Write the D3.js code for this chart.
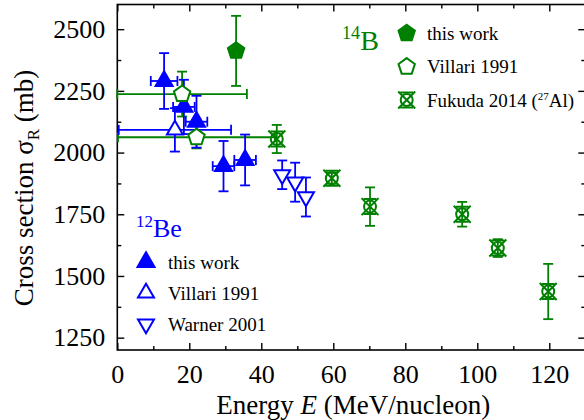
<!DOCTYPE html>
<html>
<head>
<meta charset="utf-8">
<script src="https://cdn.jsdelivr.net/npm/d3@7"></script>
<style>
  body { margin: 0; background: #fff; }
  svg { display: block; }
  text { font-family: "Liberation Serif", "Times New Roman", serif; }
</style>
</head>
<body>
<svg id="chart" width="584" height="420"></svg>
<script>
// 12Be on carbon, this work
const beThisE      = [13, 18.5, 22, 29.5, 35.5];
const beThisEErr   = [3.7, 3, 3, 3, 3];
const beThisSigma  = [2290, 2185, 2125, 1945, 1970];
const beThisErr    = [113, 110, 105, 102, 103];

// 12Be, Villari 1991
const beVillariE     = [16];
const beVillariEErr  = [15.6];
const beVillariSigma = [2092];
const beVillariErr   = [88];

// 12Be, Warner 2001
const beWarnerE     = [45.8, 49.4, 52.4];
const beWarnerSigma = [1910, 1880, 1820];
const beWarnerErr   = [58, 79, 79];

// 14B on carbon, this work
const bThisE     = [33];
const bThisSigma = [2412];
const bThisErr   = [142];

// 14B, Villari 1991
const bVillariE     = [18, 22];
const bVillariEErr  = [18, 21.8];
const bVillariSigma = [2237, 2062];
const bVillariErr   = [91, 45];

// 14B on 27Al, Fukuda 2014
const bFukudaE     = [44.3, 59.6, 70.2, 95.8, 105.7, 119.7];
const bFukudaSigma = [2055, 1896, 1781, 1750, 1613, 1437];
const bFukudaErr   = [57, 22, 78, 50, 36, 112];

// axis ticks
const xTicks = [0, 20, 40, 60, 80, 100, 120];
const xMinorTicks = [10, 30, 50, 70, 90, 110, 130];
const yTicks = [1250, 1500, 1750, 2000, 2250, 2500];
const yMinorTicks = [1375, 1625, 1875, 2125, 2375];

const BLUE = "#0000ff";
const GREEN = "#008000";
const FONT = "Liberation Serif, Times New Roman, serif";

const svg = d3.select("#chart");

const x = d3.scaleLinear().domain([0, 130]).range([117.3, 585.3]);
const y = d3.scaleLinear().domain([1200, 2600]).range([350, 4.5]);

const [x0, x1] = x.range();
const [y0, y1] = y.range();

// ---- axes: inward ticks on all four sides ----
function styleAxis(g) {
  g.attr("font-family", FONT);
  g.select(".domain").remove();
  g.selectAll(".tick line").attr("stroke", "#000").attr("stroke-width", 1.4);
  g.selectAll("text").attr("fill", "#000").attr("font-size", 26).attr("font-family", FONT);
}

svg.append("g").attr("transform", `translate(0,${y0})`)
  .call(d3.axisBottom(x).tickValues(xTicks).tickSize(-7).tickPadding(15).tickFormat(d3.format("d")))
  .call(styleAxis);
svg.append("g").attr("transform", `translate(0,${y0})`)
  .call(d3.axisBottom(x).tickValues(xMinorTicks).tickSize(-4).tickFormat(""))
  .call(styleAxis);
svg.append("g").attr("transform", `translate(0,${y1})`)
  .call(d3.axisTop(x).tickValues(xTicks).tickSize(-7).tickFormat(""))
  .call(styleAxis);
svg.append("g").attr("transform", `translate(0,${y1})`)
  .call(d3.axisTop(x).tickValues(xMinorTicks).tickSize(-4).tickFormat(""))
  .call(styleAxis);

svg.append("g").attr("transform", `translate(${x0},0)`)
  .call(d3.axisLeft(y).tickValues(yTicks).tickSize(-7).tickPadding(12).tickFormat(d3.format("d")))
  .call(styleAxis);
svg.append("g").attr("transform", `translate(${x0},0)`)
  .call(d3.axisLeft(y).tickValues(yMinorTicks).tickSize(-4).tickFormat(""))
  .call(styleAxis);
svg.append("g").attr("transform", `translate(${x1},0)`)
  .call(d3.axisRight(y).tickValues(yTicks).tickSize(-7).tickFormat(""))
  .call(styleAxis);
svg.append("g").attr("transform", `translate(${x1},0)`)
  .call(d3.axisRight(y).tickValues(yMinorTicks).tickSize(-4).tickFormat(""))
  .call(styleAxis);

svg.append("rect")
  .attr("x", x0).attr("y", y1).attr("width", x1 - x0).attr("height", y0 - y1)
  .attr("fill", "none").attr("stroke", "#000").attr("stroke-width", 1.6);

// axis titles
svg.append("text")
  .attr("x", (x0 + x1) / 2 + 2).attr("y", 414)
  .attr("text-anchor", "middle").attr("font-size", 27)
  .call(t => {
    t.append("tspan").text("Energy ");
    t.append("tspan").attr("font-style", "italic").text("E");
    t.append("tspan").text(" (MeV/nucleon)");
  });

svg.append("text")
  .attr("transform", "translate(33,188) rotate(-90)")
  .attr("text-anchor", "middle").attr("font-size", 27)
  .call(t => {
    t.append("tspan").text("Cross section σ");
    t.append("tspan").attr("font-size", 17).attr("dy", 6).text("R");
    t.append("tspan").attr("dy", -6).text(" (mb)");
  });

// ---- marker shapes ----
function triUp(s) {
  const h = s * Math.sqrt(3) / 2;
  return `M0,${-2 * h / 3}L${s / 2},${h / 3}L${-s / 2},${h / 3}Z`;
}
function triDown(s) {
  const h = s * Math.sqrt(3) / 2;
  return `M0,${2 * h / 3}L${s / 2},${-h / 3}L${-s / 2},${-h / 3}Z`;
}
function pentagon(r) {
  const pts = d3.range(5).map(i => {
    const a = -Math.PI / 2 + i * 2 * Math.PI / 5;
    return [r * Math.cos(a), r * Math.sin(a)];
  });
  return "M" + pts.map(p => p.join(",")).join("L") + "Z";
}
function drawFukuda(g, cx, cy, color) {
  const s = g.append("g").attr("transform", `translate(${cx},${cy})`)
    .attr("fill", "none").attr("stroke", color).attr("stroke-width", 2);
  const a = 8.5;
  s.append("circle").attr("r", 6);
  s.append("path").attr("d", `M${-a},${-a}L${a},${a}M${-a},${a}L${a},${-a}`);
  s.append("path").attr("d", `M${-a + 2},${-a + 1}L${a - 2},${-a + 1}M${-a + 2},${a - 1}L${a - 2},${a - 1}`);
}

// ---- error bars ----
const CAP = 5;
function errorBars(E, S, dS, dE, color) {
  const g = svg.append("g").attr("stroke", color).attr("stroke-width", 1.8).attr("fill", "none");
  E.forEach((e, i) => {
    const cx = x(e), cy = y(S[i]);
    if (dS && dS[i]) {
      const ya = y(S[i] + dS[i]), yb = y(S[i] - dS[i]);
      g.append("line").attr("x1", cx).attr("x2", cx).attr("y1", ya).attr("y2", yb);
      g.append("line").attr("x1", cx - CAP).attr("x2", cx + CAP).attr("y1", ya).attr("y2", ya);
      g.append("line").attr("x1", cx - CAP).attr("x2", cx + CAP).attr("y1", yb).attr("y2", yb);
    }
    if (dE && dE[i]) {
      const xa = x(e - dE[i]), xb = x(e + dE[i]);
      g.append("line").attr("x1", xa).attr("x2", xb).attr("y1", cy).attr("y2", cy);
      g.append("line").attr("x1", xa).attr("x2", xa).attr("y1", cy - CAP).attr("y2", cy + CAP);
      g.append("line").attr("x1", xb).attr("x2", xb).attr("y1", cy - CAP).attr("y2", cy + CAP);
    }
  });
}

errorBars(bVillariE, bVillariSigma, bVillariErr, bVillariEErr, GREEN);
errorBars(beVillariE, beVillariSigma, beVillariErr, beVillariEErr, BLUE);
errorBars(bFukudaE, bFukudaSigma, bFukudaErr, null, GREEN);
errorBars(beWarnerE, beWarnerSigma, beWarnerErr, null, BLUE);
errorBars(beThisE, beThisSigma, beThisErr, beThisEErr, BLUE);
errorBars(bThisE, bThisSigma, bThisErr, null, GREEN);

// ---- markers ----
function markers(E, S, d, fill, stroke) {
  svg.append("g").selectAll("path").data(E).join("path")
    .attr("transform", (e, i) => `translate(${x(e)},${y(S[i])})`)
    .attr("d", d)
    .attr("fill", fill).attr("stroke", stroke).attr("stroke-width", 2)
    .attr("stroke-linejoin", "miter");
}

markers(beThisE, beThisSigma, triUp(17), BLUE, BLUE);
markers(beVillariE, beVillariSigma, triUp(16), "#fff", BLUE);
markers(beWarnerE, beWarnerSigma, triDown(16), "#fff", BLUE);
const fk = svg.append("g");
bFukudaE.forEach((e, i) => drawFukuda(fk, x(e), y(bFukudaSigma[i]), GREEN));
markers(bVillariE, bVillariSigma, pentagon(8.6), "#fff", GREEN);
markers(bThisE, bThisSigma, pentagon(8.6), GREEN, GREEN);

// ---- legends ----
function isotope(xp, yp, mass, sym, color, size) {
  const t = svg.append("text").attr("x", xp).attr("y", yp).attr("fill", color).attr("font-size", size);
  t.append("tspan").attr("font-size", size * 0.65).attr("dy", -size * 0.38).text(mass);
  t.append("tspan").attr("dy", size * 0.38).text(sym);
}

// 14B legend
isotope(342, 50, "14", "B", GREEN, 28);
const lb = svg.append("g");
const bRows = [33.3, 66.7, 100];
lb.append("path").attr("transform", `translate(406.7,${bRows[0]})`).attr("d", pentagon(8.6))
  .attr("fill", GREEN).attr("stroke", GREEN).attr("stroke-width", 2);
lb.append("path").attr("transform", `translate(406.7,${bRows[1]})`).attr("d", pentagon(8.6))
  .attr("fill", "#fff").attr("stroke", GREEN).attr("stroke-width", 2);
drawFukuda(lb, 406.7, bRows[2], GREEN);
lb.append("text").attr("x", 427).attr("y", bRows[0] + 6.5).attr("font-size", 19).text("this work");
lb.append("text").attr("x", 427).attr("y", bRows[1] + 6.5).attr("font-size", 19).text("Villari 1991");
lb.append("text").attr("x", 427).attr("y", bRows[2] + 6.5).attr("font-size", 19)
  .call(t => {
    t.append("tspan").text("Fukuda 2014 (");
    t.append("tspan").attr("font-size", 11).attr("dy", -7).text("27");
    t.append("tspan").attr("dy", 7).text("Al)");
  });

// 12Be legend
isotope(136, 237, "12", "Be", BLUE, 26);
const lbe = svg.append("g");
const beRows = [262, 293, 324];
lbe.append("path").attr("transform", `translate(146,${beRows[0]})`).attr("d", triUp(17))
  .attr("fill", BLUE).attr("stroke", BLUE).attr("stroke-width", 2);
lbe.append("path").attr("transform", `translate(146,${beRows[1]})`).attr("d", triUp(16))
  .attr("fill", "#fff").attr("stroke", BLUE).attr("stroke-width", 2);
lbe.append("path").attr("transform", `translate(146,${beRows[2]})`).attr("d", triDown(16))
  .attr("fill", "#fff").attr("stroke", BLUE).attr("stroke-width", 2);
lbe.append("text").attr("x", 168).attr("y", beRows[0] + 6.5).attr("font-size", 19).text("this work");
lbe.append("text").attr("x", 168).attr("y", beRows[1] + 6.5).attr("font-size", 19).text("Villari 1991");
lbe.append("text").attr("x", 168).attr("y", beRows[2] + 6.5).attr("font-size", 19).text("Warner 2001");
</script>
</body>
</html>
